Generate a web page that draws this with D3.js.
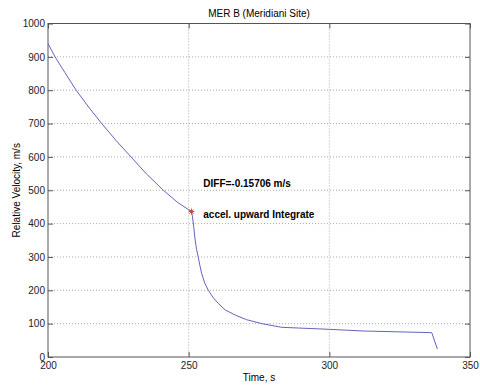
<!DOCTYPE html>
<html>
<head>
<meta charset="utf-8">
<script src="https://cdn.jsdelivr.net/npm/d3@7/dist/d3.min.js"></script>
<style>
  body { margin: 0; background: #fff; }
  svg { font-family: "Liberation Sans", Arial, sans-serif; }
</style>
</head>
<body>
<div id="chart"></div>
<script>
// values
const time = [200, 202.5, 206, 210, 214.5, 219.1, 224.2, 229.5, 235, 241, 246, 251,
  251.3, 251.8, 252.3, 252.8, 253.4, 254, 254.6, 255.7, 257, 258.7, 260.5, 263, 266.5, 270.5, 276, 283.1, 300, 312, 336.4, 338.4];
const velocity = [940, 900, 853, 800, 749, 700, 649, 600, 549, 500, 464, 436,
  424, 390, 351, 323, 300, 274, 251, 222, 200, 178, 161, 141, 126, 112, 100, 89, 83, 78, 73, 24];
const markerTime = [251];
const markerVelocity = [436];
const xTicks = [200, 250, 300, 350];
const yTicks = [0, 100, 200, 300, 400, 500, 600, 700, 800, 900, 1000];
const title = 'MER B (Meridiani Site)';
const notes = ['DIFF=-0.15706 m/s', 'accel. upward Integrate'];

const width = 480, height = 387;
const margin = { top: 23.5, right: 10, bottom: 30, left: 48 };
const w = width - margin.left - margin.right;
const h = height - margin.top - margin.bottom;

const svg = d3.select('#chart').append('svg')
  .attr('width', width)
  .attr('height', height);

const g = svg.append('g')
  .attr('transform', 'translate(' + margin.left + ',' + margin.top + ')');

const x = d3.scaleLinear().domain([200, 350]).range([0, w]);
const y = d3.scaleLinear().domain([0, 1000]).range([h, 0]);

// dotted grid
g.selectAll('.gx').data(xTicks.slice(1, -1)).enter().append('line')
  .attr('x1', d => x(d)).attr('x2', d => x(d))
  .attr('y1', 0).attr('y2', h)
  .attr('stroke', '#aaa').attr('stroke-dasharray', '1,2');
g.selectAll('.gy').data(yTicks.slice(1, -1)).enter().append('line')
  .attr('x1', 0).attr('x2', w)
  .attr('y1', d => y(d)).attr('y2', d => y(d))
  .attr('stroke', '#aaa').attr('stroke-dasharray', '1,2');

// axes with inward ticks on all four sides
const styleAxis = sel => {
  sel.select('.domain').remove();
  sel.selectAll('line').attr('stroke', '#555');
  sel.selectAll('text').attr('fill', '#222').style('font-size', '10px');
};
g.append('g').attr('transform', 'translate(0,' + h + ')')
  .call(d3.axisBottom(x).tickValues(xTicks).tickFormat(d3.format('d')).tickSizeInner(-5).tickPadding(5)).call(styleAxis);
g.append('g')
  .call(d3.axisLeft(y).tickValues(yTicks).tickFormat(d3.format('d')).tickSizeInner(-5).tickPadding(3)).call(styleAxis);
g.append('g')
  .call(d3.axisTop(x).tickValues(xTicks).tickSizeInner(-5).tickFormat('')).call(styleAxis);
g.append('g').attr('transform', 'translate(' + w + ',0)')
  .call(d3.axisRight(y).tickValues(yTicks).tickSizeInner(-5).tickFormat('')).call(styleAxis);

g.append('rect')
  .attr('width', w).attr('height', h)
  .attr('fill', 'none').attr('stroke', '#555');

// velocity curve
const line = d3.line()
  .x(i => x(time[i]))
  .y(i => y(velocity[i]));

g.append('path')
  .attr('d', line(d3.range(time.length)))
  .attr('fill', 'none')
  .attr('stroke', '#6464bc')
  .attr('stroke-width', 1);

// red star at the switch point
g.selectAll('.mark').data(markerTime).enter().append('path')
  .attr('transform', (d, i) => 'translate(' + x(d) + ',' + y(markerVelocity[i]) + ')')
  .attr('d', 'M-3,0H3M0,-3V3M-2,-2L2,2M-2,2L2,-2')
  .attr('stroke', '#d04040')
  .attr('stroke-width', 1);

// annotations
g.append('text')
  .attr('x', x(255.2)).attr('y', y(510))
  .style('font-size', '10px').style('font-weight', 'bold')
  .text(notes[0]);
g.append('text')
  .attr('x', x(255.2)).attr('y', y(418))
  .style('font-size', '10px').style('font-weight', 'bold')
  .text(notes[1]);

// title and labels
svg.append('text')
  .attr('x', margin.left + w / 2).attr('y', 17)
  .attr('text-anchor', 'middle')
  .style('font-size', '10px')
  .text(title);
svg.append('text')
  .attr('x', margin.left + w / 2).attr('y', 381)
  .attr('text-anchor', 'middle')
  .style('font-size', '10px')
  .text('Time, s');
svg.append('text')
  .attr('transform', 'translate(20,' + (margin.top + h / 2) + ') rotate(-90)')
  .attr('text-anchor', 'middle')
  .style('font-size', '10px')
  .text('Relative Velocity, m/s');
</script>
</body>
</html>
